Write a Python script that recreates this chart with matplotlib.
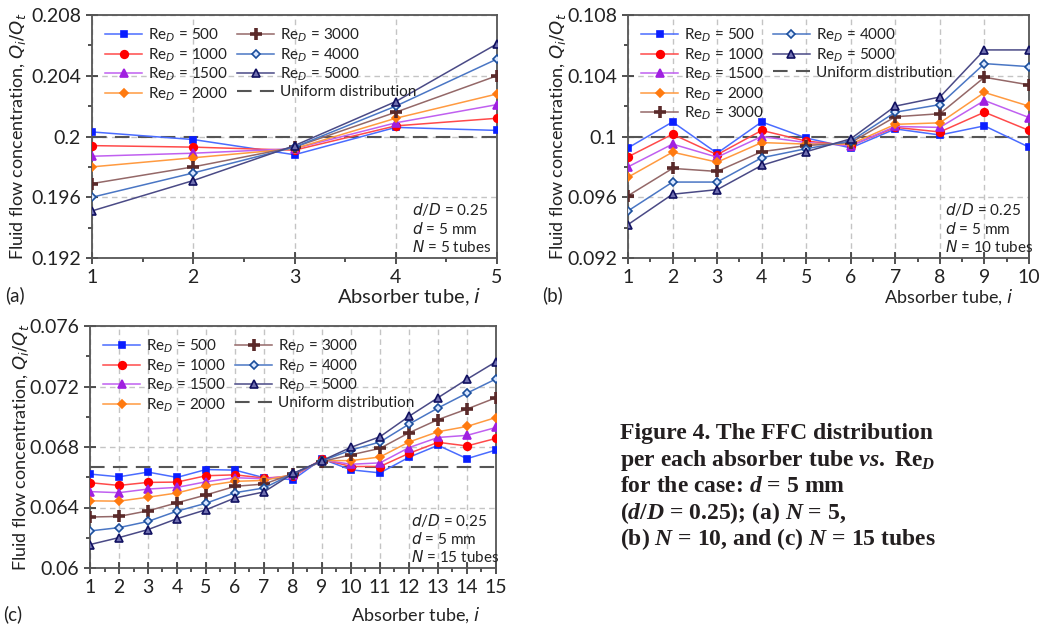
import matplotlib
matplotlib.use("Agg")
import matplotlib.pyplot as plt
from matplotlib.lines import Line2D
from matplotlib.ticker import MultipleLocator, FuncFormatter

plt.rcParams['font.family'] = ['Lato', 'DejaVu Sans']
plt.rcParams['mathtext.fontset'] = 'custom'
plt.rcParams['mathtext.rm'] = 'Liberation Serif:bold'
plt.rcParams['mathtext.it'] = 'Liberation Serif:italic:bold'
plt.rcParams['mathtext.bf'] = 'Liberation Serif:bold'

# ---- data ----
reynolds = [500, 1000, 1500, 2000, 3000, 4000, 5000]

# (a) N = 5
tubes_a = [1, 2, 3, 4, 5]
ffc_a = {
    500:  [0.2003, 0.1998, 0.1988, 0.2006, 0.2004],
    1000: [0.1994, 0.1993, 0.1991, 0.2007, 0.2012],
    1500: [0.1987, 0.1989, 0.1992, 0.2009, 0.2021],
    2000: [0.1980, 0.1986, 0.1992, 0.2012, 0.2028],
    3000: [0.1969, 0.1980, 0.1993, 0.2016, 0.2040],
    4000: [0.1960, 0.1976, 0.1993, 0.2020, 0.2051],
    5000: [0.1951, 0.1971, 0.1994, 0.2023, 0.2061],
}

# (b) N = 10
tubes_b = [1, 2, 3, 4, 5, 6, 7, 8, 9, 10]
ffc_b = {
    500:  [0.09925, 0.10096, 0.0989, 0.10096, 0.0999, 0.09925, 0.1005, 0.1001, 0.1007, 0.0993],
    1000: [0.09866, 0.10015, 0.0988, 0.1004, 0.0997, 0.0994, 0.1006, 0.1003, 0.1016, 0.1004],
    1500: [0.0980, 0.0995, 0.09864, 0.1000, 0.0996, 0.0994, 0.10066, 0.1006, 0.10237, 0.10125],
    2000: [0.09732, 0.09897, 0.09831, 0.0996, 0.0995, 0.0995, 0.1008, 0.1009, 0.1029, 0.1020],
    3000: [0.0961, 0.0979, 0.0977, 0.0990, 0.0994, 0.0996, 0.1013, 0.1015, 0.1039, 0.1034],
    4000: [0.0951, 0.0970, 0.0970, 0.0986, 0.0992, 0.0997, 0.1016, 0.1021, 0.1048, 0.1046],
    5000: [0.0942, 0.0962, 0.0965, 0.0981, 0.0990, 0.09985, 0.1020, 0.1026, 0.1057, 0.1057],
}

# (c) N = 15
tubes_c = list(range(1, 16))
ffc_c = {
    500:  [0.06621, 0.06603, 0.06634, 0.06599, 0.06651, 0.06647, 0.06597, 0.06584,
           0.06721, 0.06649, 0.06629, 0.06732, 0.06811, 0.06723, 0.0678],
    1000: [0.06564, 0.06546, 0.06566, 0.06568, 0.0661, 0.06616, 0.06595, 0.06605,
           0.06719, 0.06671, 0.06671, 0.06758, 0.06831, 0.06807, 0.06857],
    1500: [0.06505, 0.06498, 0.06522, 0.06533, 0.0657, 0.06597, 0.0659, 0.06612,
           0.06715, 0.06686, 0.06695, 0.06796, 0.06863, 0.06877, 0.06929],
    2000: [0.06444, 0.06442, 0.06468, 0.06496, 0.06544, 0.06573, 0.06579, 0.06619,
           0.0671, 0.0671, 0.06734, 0.06833, 0.06901, 0.06936, 0.06995],
    3000: [0.06337, 0.06341, 0.06378, 0.06431, 0.06483, 0.0654, 0.06555, 0.06623,
           0.06704, 0.06748, 0.06791, 0.06894, 0.06981, 0.07051, 0.07126],
    4000: [0.06245, 0.06267, 0.06308, 0.06376, 0.06428, 0.06498, 0.06529, 0.06623,
           0.06708, 0.0678, 0.06833, 0.06951, 0.07058, 0.07156, 0.0725],
    5000: [0.06155, 0.06201, 0.06254, 0.06326, 0.06385, 0.06463, 0.06503, 0.06625,
           0.0671, 0.06798, 0.06868, 0.07003, 0.07126, 0.07248, 0.07364],
}

# style per Reynolds number: (line colour, marker colour, marker, face, size)
styles = {
    500:  ('#4a6cff', '#0a1eff', 's', None, 5.0),
    1000: ('#ff4a4a', '#ff0000', 'o', None, 5.5),
    1500: ('#c060f0', '#a020e0', '^', None, 5.5),
    2000: ('#ff9a40', '#ff7a10', 'D', None, 4.0),
    3000: ('#946868', '#5a2a2a', '+', None, 9.0),
    4000: ('#4a76c4', '#1b4f9c', 'D', '#d8e6ff', 4.5),
    5000: ('#4a4a86', '#101060', '^', '#7070b0', 5.5),
}


def draw_panel(ax, tubes, ffc, ylim, tag, note, legend_blank, xlab_size, xlab_y, ylab_x):
    for re in reynolds:
        lc, mc, mk, fc, ms = styles[re]
        ax.plot(tubes, ffc[re], color=lc, lw=1.1, marker=mk, ms=ms,
                mfc=fc if fc else mc, mec=mc, mew=2.6 if mk == '+' else 1.2,
                label='Re$_{D}$ = %d' % re, zorder=3)
    uni = 1.0 / len(tubes)
    ax.plot([tubes[0], tubes[-1]], [uni, uni], color='#555555', lw=1.5,
            ls=(0, (7, 4)), label='Uniform distribution', zorder=2)

    ax.set_xlim(tubes[0], tubes[-1])
    ax.set_ylim(*ylim)
    ax.xaxis.set_major_locator(MultipleLocator(1))
    ax.xaxis.set_minor_locator(MultipleLocator(0.5))
    ax.yaxis.set_major_locator(MultipleLocator(0.004))
    ax.yaxis.set_minor_locator(MultipleLocator(0.002))
    ax.yaxis.set_major_formatter(FuncFormatter(lambda v, p: '%g' % round(v, 4)))
    ax.tick_params(which='major', direction='inout', length=8, width=1.2,
                   colors='#333333', labelsize=14, pad=4, labelcolor='#222222')
    ax.tick_params(which='minor', direction='out', length=3, width=1.2,
                   colors='#333333')
    for s in ax.spines.values():
        s.set_color('#555555')
        s.set_linewidth(1.3)
    ax.grid(True, which='major', color='#c4c4c4', ls=(0, (4, 3)), lw=1)

    ax.set_ylabel('Fluid flow concentration, $Q_i/Q_t$', fontsize=13,
                  color='#222222', math_fontfamily='dejavusans')
    ax.yaxis.set_label_coords(ylab_x, 0.5)
    ax.set_xlabel('Absorber tube, $i$', fontsize=xlab_size, color='#222222',
                  math_fontfamily='dejavusans')
    ax.xaxis.set_label_coords(0.96, xlab_y)
    ax.xaxis.label.set_horizontalalignment('right')
    ax.text(-0.215, xlab_y - 0.035, tag, transform=ax.transAxes, fontsize=13.5,
            color='#222222', ha='left', va='center')

    for k, t in enumerate(note):
        ax.text(0.79, 0.198 - k * 0.077, t, transform=ax.transAxes, fontsize=11,
                color='#222222', ha='left', va='center',
                math_fontfamily='dejavusans')

    handles, labels = ax.get_legend_handles_labels()
    if legend_blank:
        blank = Line2D([], [], alpha=0)
        handles = handles + [blank, blank]
        labels = labels + ['', '']
    leg = ax.legend(handles, labels, ncol=2, loc='upper left', frameon=False,
                    handlelength=2.4, handletextpad=0.4,
                    labelspacing=0.12, columnspacing=0.6,
                    borderaxespad=0.2, bbox_to_anchor=(0.01, 0.99),
                    prop={'size': 11, 'math_fontfamily': 'dejavusans'})
    for t in leg.get_texts():
        t.set_color('#222222')


fig = plt.figure(figsize=(10.4, 6.26), dpi=100)

ax_a = fig.add_axes([92 / 1040, 1 - 258 / 626, 405 / 1040, 243 / 626])
draw_panel(ax_a, tubes_a, ffc_a, (0.192, 0.208), '(a)',
           ['$d$/$D$ = 0.25', '$d$ = 5 mm', '$N$ = 5 tubes'], False, 14.5, -0.12, -0.158)

ax_b = fig.add_axes([628 / 1040, 1 - 258 / 626, 401 / 1040, 243 / 626])
draw_panel(ax_b, tubes_b, ffc_b, (0.092, 0.108), '(b)',
           ['$d$/$D$ = 0.25', '$d$ = 5 mm', '$N$ = 10 tubes'], True, 13, -0.12, -0.15)

ax_c = fig.add_axes([90 / 1040, 1 - 568 / 626, 406 / 1040, 242 / 626])
draw_panel(ax_c, tubes_c, ffc_c, (0.060, 0.076), '(c)',
           ['$d$/$D$ = 0.25', '$d$ = 5 mm', '$N$ = 15 tubes'], False, 13, -0.155, -0.145)

caption = [
    'Figure 4. The FFC distribution',
    'per each absorber tube $vs.$ Re$_D$',
    'for the case: $d$ = 5 mm',
    '($d$/$D$ = 0.25); (a) $N$ = 5,',
    '(b) $N$ = 10, and (c) $N$ = 15 tubes',
]
for k, line in enumerate(caption):
    fig.text(620 / 1040, 1 - (439 + k * 26.6) / 626, line,
             family='Liberation Serif', weight='bold', fontsize=17,
             color='#231f20', ha='left', va='baseline',
             math_fontfamily='custom')

fig.savefig('out.png', dpi=100)
